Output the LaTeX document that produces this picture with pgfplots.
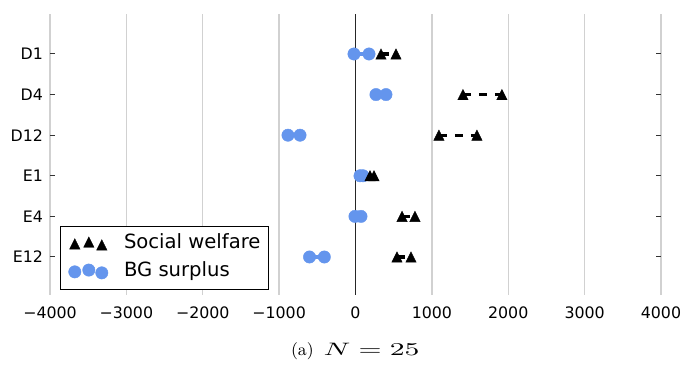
\documentclass[border=0pt]{standalone}
\usepackage{fontspec}
\usepackage{graphicx}
\usepackage{pgfplots}
\pgfplotsset{compat=1.18}
\newfontfamily\dejavu{DejaVu Sans}
\definecolor{cfblue}{RGB}{100,149,237}
\pgfdeclareplotmark{mtri}{%
 \pgfpathmoveto{\pgfqpoint{0pt}{\pgfplotmarksize}}%
 \pgfpathlineto{\pgfqpoint{-\pgfplotmarksize}{-\pgfplotmarksize}}%
 \pgfpathlineto{\pgfqpoint{\pgfplotmarksize}{-\pgfplotmarksize}}%
 \pgfpathclose
 \pgfusepathqfillstroke}
\pgfplotsset{threemarks/.style={legend image code/.code={\draw[##1] plot[only marks] coordinates {(0pt,0pt) (7pt,0.9pt) (13.5pt,-0.5pt)};}}}
\begin{document}
\begin{tikzpicture}
\useasboundingbox (-25pt,-36.5pt) rectangle (317.5pt,147.5pt);
\begin{axis}[
 scale only axis, width=305.5pt, height=140.5pt,
 xmin=-4000, xmax=4000, ymin=0.064, ymax=6.985,
 axis line style={draw=none},
 xtick={-4000,-3000,...,4000},
 xticklabels={−4000,−3000,−2000,−1000,0,1000,2000,3000,4000},
 ytick={1,2,3,4,5,6},
 yticklabels={E12,E4,E1,D12,D4,D1},
 xmajorgrids=true,
 major grid style={black!18, line width=0.65pt},
 xtick style={draw=none},
 ytick style={black!80, line width=0.5pt},
 major tick length=2.5pt, tick align=inside,
 tick label style={font=\dejavu\fontsize{7.9}{9}\selectfont},
 xticklabel style={yshift=-2.4pt},
 extra x ticks={0}, extra x tick labels={},
 extra x tick style={grid=major, major grid style={black!85, line width=0.9pt}},
 unbounded coords=jump,
 reverse legend,
 legend cell align=left,
 legend style={at={(0.0164,0.246)}, anchor=north west, draw=black, line width=0.6pt, fill=white,
   font=\dejavu\fontsize{9.8}{11}\selectfont, inner xsep=4pt, inner ysep=4pt,
   row sep=4.6pt, column sep=8pt,
   nodes={inner sep=0pt, text height=7.2pt, text depth=2.2pt}},
]
\addplot[cfblue, line width=1.65pt, mark=*, mark size=3.1pt,
  mark options={line width=0.2pt, fill=cfblue}, threemarks]
 coordinates {
 (-20,6) (177,6) (nan,nan)
 (268,5) (399,5) (nan,nan)
 (-884,4) (-726,4) (nan,nan)
 (59,3) (98,3) (nan,nan)
 (-7,2) (72,2) (nan,nan)
 (-602,1) (-408,1)
 };
\addlegendentry{BG surplus}
\addplot[black, line width=1.65pt, dash pattern=on 4pt off 4pt, mark=mtri, mark size=2.6pt,
  mark options={solid, line width=0.2pt, fill=black}, threemarks]
 coordinates {
 (334,6) (530,6) (nan,nan)
 (1407,5) (1917,5) (nan,nan)
 (1093,4) (1590,4) (nan,nan)
 (190,3) (242,3) (nan,nan)
 (609,2) (779,2) (nan,nan)
 (543,1) (727,1)
 };
\addlegendentry{Social welfare}
\end{axis}
\node[anchor=base west, inner sep=0pt, font=\fontsize{8.6}{10}\selectfont] at (120.35pt,-30.2pt) {(a)\hspace{5pt}\scalebox{1.6}[1]{$N=25$}};
\end{tikzpicture}
\end{document}
